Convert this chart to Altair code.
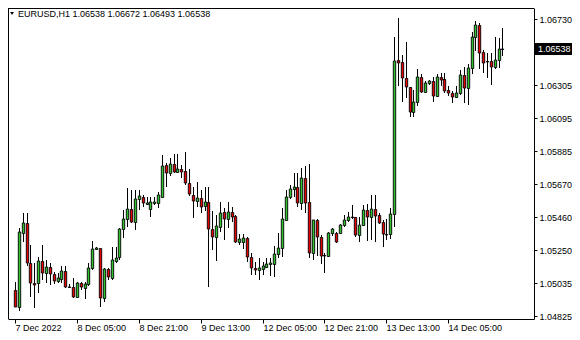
import altair as alt
import pandas as pd

symbol = "EURUSD,H1"

opens = [1.04992, 1.04885, 1.05355, 1.05420, 1.05163, 1.05037, 1.05035, 1.05178, 1.05099, 1.05137,
         1.05093, 1.05051, 1.05064, 1.05114, 1.05013, 1.05009, 1.04949, 1.05035, 1.05003, 1.05028,
         1.05131, 1.05255, 1.05259, 1.04939, 1.05125, 1.05067, 1.05180, 1.05202, 1.05381, 1.05445,
         1.05509, 1.05430, 1.05574, 1.05590, 1.05543, 1.05509, 1.05552, 1.05548, 1.05590, 1.05794,
         1.05740, 1.05800, 1.05751, 1.05768, 1.05755, 1.05676, 1.05601, 1.05565, 1.05580, 1.05531,
         1.05554, 1.05381, 1.05334, 1.05398, 1.05494, 1.05447, 1.05490, 1.05466, 1.05298, 1.05302,
         1.05323, 1.05202, 1.05135, 1.05120, 1.05125, 1.05141, 1.05159, 1.05159, 1.05223, 1.05261,
         1.05444, 1.05588, 1.05640, 1.05652, 1.05550, 1.05710, 1.05556, 1.05229, 1.05441, 1.05335,
         1.05216, 1.05210, 1.05357, 1.05357, 1.05357, 1.05409, 1.05438, 1.05460, 1.05460, 1.05345,
         1.05409, 1.05505, 1.05460, 1.05511, 1.05470, 1.05428, 1.05351, 1.05351, 1.05479, 1.06467,
         1.06454, 1.06352, 1.06294, 1.06134, 1.06198, 1.06358, 1.06262, 1.06320, 1.06332, 1.06236,
         1.06358, 1.06345, 1.06275, 1.06255, 1.06230, 1.06255, 1.06371, 1.06287, 1.06416, 1.06615,
         1.06692, 1.06518, 1.06461, 1.06461, 1.06422, 1.06467, 1.06538]

highs = [1.05045, 1.05388, 1.05484, 1.05488, 1.05280, 1.05163, 1.05205, 1.05280, 1.05184, 1.05163,
         1.05109, 1.05099, 1.05146, 1.05146, 1.05028, 1.05067, 1.05045, 1.05045, 1.05045, 1.05167,
         1.05306, 1.05270, 1.05263, 1.05131, 1.05135, 1.05270, 1.05270, 1.05388, 1.05505, 1.05644,
         1.05633, 1.05633, 1.05633, 1.05601, 1.05588, 1.05588, 1.05588, 1.05620, 1.05858, 1.05804,
         1.05837, 1.05864, 1.05864, 1.05794, 1.05879, 1.05768, 1.05654, 1.05686, 1.05633, 1.05654,
         1.05654, 1.05500, 1.05473, 1.05558, 1.05516, 1.05558, 1.05526, 1.05473, 1.05349, 1.05349,
         1.05334, 1.05227, 1.05173, 1.05195, 1.05173, 1.05195, 1.05197, 1.05274, 1.05357, 1.05515,
         1.05633, 1.05665, 1.05742, 1.05742, 1.05774, 1.05787, 1.05803, 1.05441, 1.05445, 1.05345,
         1.05229, 1.05364, 1.05390, 1.05364, 1.05415, 1.05473, 1.05492, 1.05537, 1.05463, 1.05460,
         1.05537, 1.05543, 1.05601, 1.05601, 1.05486, 1.05441, 1.05447, 1.05518, 1.06615, 1.06735,
         1.06499, 1.06583, 1.06296, 1.06275, 1.06409, 1.06377, 1.06332, 1.06339, 1.06358, 1.06377,
         1.06384, 1.06384, 1.06300, 1.06268, 1.06300, 1.06403, 1.06422, 1.06441, 1.06647, 1.06717,
         1.06704, 1.06531, 1.06512, 1.06512, 1.06615, 1.06608, 1.06672]

lows = [1.04880, 1.04859, 1.05302, 1.05146, 1.04945, 1.04874, 1.04971, 1.05056, 1.05035, 1.05024,
        1.05030, 1.05035, 1.05035, 1.05003, 1.05003, 1.04939, 1.04939, 1.04992, 1.04932, 1.05017,
        1.05120, 1.05248, 1.04885, 1.04917, 1.05056, 1.05056, 1.05163, 1.05184, 1.05323, 1.05398,
        1.05420, 1.05377, 1.05505, 1.05524, 1.05537, 1.05460, 1.05537, 1.05518, 1.05588, 1.05654,
        1.05723, 1.05745, 1.05740, 1.05708, 1.05665, 1.05595, 1.05456, 1.05526, 1.05484, 1.05499,
        1.05013, 1.05248, 1.05180, 1.05366, 1.05313, 1.05388, 1.05430, 1.05291, 1.05280, 1.05253,
        1.05173, 1.05088, 1.05088, 1.05056, 1.05088, 1.05131, 1.05082, 1.05075, 1.05197, 1.05203,
        1.05438, 1.05576, 1.05588, 1.05524, 1.05505, 1.05486, 1.05197, 1.05184, 1.05210, 1.05159,
        1.05101, 1.05203, 1.05338, 1.05296, 1.05351, 1.05396, 1.05428, 1.05447, 1.05332, 1.05300,
        1.05402, 1.05306, 1.05313, 1.05300, 1.05415, 1.05268, 1.05313, 1.05319, 1.05396, 1.06300,
        1.06198, 1.06223, 1.06101, 1.06101, 1.06172, 1.06255, 1.06258, 1.06307, 1.06198, 1.06230,
        1.06300, 1.06255, 1.06236, 1.06191, 1.06223, 1.06243, 1.06191, 1.06178, 1.06377, 1.06525,
        1.06409, 1.06384, 1.06352, 1.06307, 1.06409, 1.06416, 1.06493]

closes = [1.04885, 1.05366, 1.05420, 1.05167, 1.05035, 1.05026, 1.05178, 1.05099, 1.05137, 1.05093,
          1.05051, 1.05067, 1.05114, 1.05013, 1.05012, 1.04949, 1.05035, 1.05009, 1.05028, 1.05131,
          1.05253, 1.05259, 1.04939, 1.05125, 1.05077, 1.05184, 1.05195, 1.05381, 1.05445, 1.05509,
          1.05430, 1.05574, 1.05595, 1.05548, 1.05552, 1.05558, 1.05558, 1.05601, 1.05787, 1.05740,
          1.05800, 1.05751, 1.05768, 1.05751, 1.05676, 1.05606, 1.05565, 1.05582, 1.05526, 1.05554,
          1.05381, 1.05334, 1.05402, 1.05488, 1.05447, 1.05494, 1.05462, 1.05298, 1.05319, 1.05327,
          1.05205, 1.05131, 1.05120, 1.05131, 1.05146, 1.05159, 1.05163, 1.05223, 1.05261, 1.05447,
          1.05588, 1.05640, 1.05652, 1.05550, 1.05710, 1.05550, 1.05229, 1.05441, 1.05335, 1.05210,
          1.05213, 1.05357, 1.05383, 1.05300, 1.05409, 1.05441, 1.05460, 1.05462, 1.05345, 1.05409,
          1.05505, 1.05460, 1.05511, 1.05466, 1.05422, 1.05351, 1.05348, 1.05479, 1.06461, 1.06448,
          1.06352, 1.06294, 1.06134, 1.06198, 1.06358, 1.06262, 1.06320, 1.06332, 1.06236, 1.06358,
          1.06339, 1.06268, 1.06255, 1.06230, 1.06255, 1.06371, 1.06287, 1.06416, 1.06615, 1.06692,
          1.06512, 1.06448, 1.06454, 1.06422, 1.06467, 1.06538, 1.06538]

x_tick_index = [0, 16, 32, 48, 64, 80, 96, 112]
x_tick_labels = ["7 Dec 2022", "8 Dec 05:00", "8 Dec 21:00", "9 Dec 13:00",
                 "12 Dec 05:00", "12 Dec 21:00", "13 Dec 13:00", "14 Dec 05:00"]
y_tick_values = [1.04825, 1.05035, 1.05250, 1.05460, 1.05670, 1.05885,
                 1.06095, 1.06305, 1.06730]

FONT = "Liberation Sans"
GREEN = "#2fc42f"
RED = "#e80000"
W, H = 526, 311

n = len(opens)
df = pd.DataFrame({"i": list(range(n)), "open": opens, "high": highs,
                   "low": lows, "close": closes})
df["dir"] = ["up" if c >= o else "down" for o, c in zip(opens, closes)]

label_expr = f"{x_tick_labels}[indexof({x_tick_index}, datum.value)]"

x_enc = alt.X("i:Q",
              scale=alt.Scale(domain=[-0.507, 132.86], nice=False, zero=False, round=True),
              axis=alt.Axis(values=x_tick_index, labelExpr=label_expr, labelAlign="left",
                            labelFlush=False, labelOverlap=False, tickSize=4,
                            labelPadding=0, grid=False),
              title=None)
y_scale = alt.Scale(domain=[1.04806, 1.06801], nice=False, zero=False, round=True)
y_axis = alt.Axis(orient="right", values=y_tick_values, format=".5f", tickSize=3,
                  labelPadding=2, grid=False, labelAlign="left", labelBaseline="middle")
color_enc = alt.Color("dir:N", scale=alt.Scale(domain=["up", "down"], range=[GREEN, RED]),
                      legend=None)

base = alt.Chart(df)

wicks = base.mark_rule(color="black", strokeWidth=1, xOffset=0.5).encode(
    x=x_enc,
    y=alt.Y("low:Q", scale=y_scale, axis=y_axis, title=None),
    y2="high:Q",
)

bodies = base.mark_bar(size=2.4, stroke="black", strokeWidth=0.9, xOffset=0.5,
                       yOffset=0.5, opacity=1).encode(
    x=x_enc,
    y=alt.Y("open:Q", scale=y_scale, axis=y_axis, title=None),
    y2="close:Q",
    color=color_enc,
)

header_df = pd.DataFrame({"t": [f"{symbol}  {opens[-1]:.5f} {highs[-1]:.5f} "
                                f"{lows[-1]:.5f} {closes[-1]:.5f}"]})
header = alt.Chart(header_df).mark_text(align="left", baseline="middle", fontSize=9,
                                        font=FONT, color="black").encode(
    x=alt.value(10), y=alt.value(6), text="t:N")
tri = alt.Chart(header_df).mark_point(shape="triangle-down", filled=True, size=14,
                                      color="black", opacity=1).encode(
    x=alt.value(4), y=alt.value(5.5))

frame_top = alt.Chart(header_df).mark_rule(color="black", strokeWidth=1).encode(
    x=alt.value(0), x2=alt.value(W), y=alt.value(0.5))
frame_left = alt.Chart(header_df).mark_rule(color="black", strokeWidth=1).encode(
    x=alt.value(0.5), y=alt.value(0), y2=alt.value(H))

price_df = pd.DataFrame({"p": [closes[-1]], "label": [f"{closes[-1]:.5f}"]})
box = alt.Chart(price_df).mark_rect(color="black", height=12).encode(
    x=alt.value(W + 1), x2=alt.value(W + 38),
    y=alt.Y("p:Q", scale=y_scale, axis=y_axis, title=None))
box_text = alt.Chart(price_df).mark_text(align="left", baseline="middle", color="white",
                                         fontSize=9, font=FONT).encode(
    x=alt.value(W + 4),
    y=alt.Y("p:Q", scale=y_scale, axis=y_axis, title=None),
    text="label:N")

chart = alt.layer(frame_top, frame_left, wicks, bodies, header, tri, box,
                  box_text).properties(
    width=W, height=H,
    padding={"left": 0, "top": 0, "right": 38, "bottom": 13},
    autosize=alt.AutoSizeParams(type="none"),
    background="white",
).configure_view(stroke="transparent").configure_axis(
    labelFont=FONT, labelFontSize=9, labelColor="black", domainColor="black",
    tickColor="black", domainWidth=1, tickWidth=1, titleFont=FONT,
)

chart.save("out.html", embed_options={"renderer": "svg", "actions": False})
